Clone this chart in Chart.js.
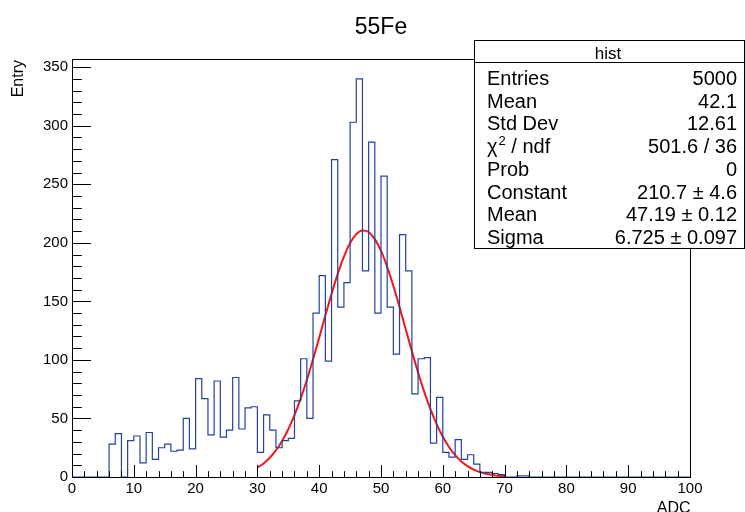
<!DOCTYPE html>
<html>
<head>
<meta charset="utf-8">
<script src="https://cdn.jsdelivr.net/npm/chart.js@4.4.1/dist/chart.umd.min.js"></script>
<style>
html,body{margin:0;padding:0;background:#ffffff;}
canvas{display:block;}
</style>
</head>
<body>
<canvas id="c" width="745" height="512"></canvas>
<script>
// ---------------- data ----------------
const chartTitle = '55Fe';
const xTitle = 'ADC';
const yTitle = 'Entry';
// histogram: 100 bins of width 1 from 0 to 100 (counts per bin)
const counts = [
  0, 0, 0, 0, 0, 0, 28, 37, 0, 31,
  35, 12, 38, 15, 25, 28, 22, 23, 50, 24,
  84, 67, 36, 82, 34, 40, 85, 41, 59, 60,
  21, 53, 40, 25, 31, 33, 65, 101, 50, 140,
  172, 99, 271, 145, 166, 303, 340, 176, 286, 140,
  257, 145, 105, 207, 176, 71, 101, 102, 29, 68,
  21, 17, 32, 15, 19, 11, 4, 4, 3, 2,
  0, 0, 1, 1, 0, 0, 0, 0, 0, 0,
  0, 0, 0, 0, 0, 0, 0, 0, 0, 0,
  0, 0, 0, 0, 0, 0, 0, 0, 0, 0
];
// red fit curve (gaus), values read at x = 30 ... 70
const fitX = [30,31,32,33,34,35,36,37,38,39,40,41,42,43,44,45,46,47,48,49,50,
              51,52,53,54,55,56,57,58,59,60,61,62,63,64,65,66,67,68,69,70];
const fitY = [8.0,11.6,16.4,22.7,30.8,40.8,52.8,66.9,82.8,100.4,119.0,137.9,156.4,173.5,188.3,199.8,207.4,210.6,209.2,203.2,193.1,
              179.5,163.2,145.1,126.2,107.4,89.3,72.7,57.9,45.1,34.3,25.6,18.6,13.3,9.3,6.3,4.2,2.8,1.8,1.1,0.7];
// axis tick labels
const xTickValues = [0, 10, 20, 30, 40, 50, 60, 70, 80, 90, 100];
const yTickValues = [0, 50, 100, 150, 200, 250, 300, 350];
// statistics box
const statsTitle = 'hist';
const statLabels = ['Entries', 'Mean', 'Std Dev', 'CHI2', 'Prob', 'Constant', 'Mean', 'Sigma'];
const statValues = ['5000', '42.1', '12.61', '501.6 / 36', '0', '210.7 \u00b1 4.6', '47.19 \u00b1 0.12', '6.725 \u00b1 0.097'];
const xMin = 0, xMax = 100, yMin = 0, yMax = 357;

// ---------------- build ----------------
const histPoints = counts.map((v, i) => ({x: xMin + i, y: v}));
histPoints.push({x: xMin + counts.length, y: counts[counts.length - 1]});
const fitPoints = fitX.map((x, i) => ({x: x, y: fitY[i]}));

const FONT = '"Liberation Sans", Arial, Helvetica, sans-serif';

const decor = {
  id: 'decor',
  afterDraw(chart) {
    const ctx = chart.ctx;
    const a = chart.chartArea;
    const xs = chart.scales.x, ys = chart.scales.y;
    ctx.save();
    ctx.strokeStyle = '#000';
    ctx.lineWidth = 1;
    const L = Math.round(a.left) + 0.5, R = Math.round(a.right) + 0.5;
    const T = Math.round(a.top) + 0.5, B = Math.round(a.bottom) + 0.5;
    ctx.strokeRect(L, T, R - L, B - T);
    // x ticks (inward)
    for (let v = xMin; v <= xMax; v += 2) {
      const px = Math.round(xs.getPixelForValue(v)) + 0.5;
      const len = (v % 10 === 0) ? 12.5 : 6.3;
      ctx.beginPath(); ctx.moveTo(px, B); ctx.lineTo(px, B - len); ctx.stroke();
    }
    // y ticks (inward)
    for (let v = 0; v <= 350; v += 10) {
      const py = Math.round(ys.getPixelForValue(v)) + 0.5;
      const len = (v % 50 === 0) ? 18.5 : 9.3;
      ctx.beginPath(); ctx.moveTo(L, py); ctx.lineTo(L + len, py); ctx.stroke();
    }
    // tick labels
    ctx.fillStyle = '#000';
    ctx.font = '15px ' + FONT;
    ctx.textAlign = 'center';
    ctx.textBaseline = 'middle';
    xTickValues.forEach(v => ctx.fillText(String(v), xs.getPixelForValue(v), 489));
    ctx.textAlign = 'right';
    yTickValues.forEach(v => ctx.fillText(String(v), 68, ys.getPixelForValue(v)));
    // title
    ctx.textBaseline = 'alphabetic';
    ctx.font = '23px ' + FONT;
    ctx.textAlign = 'center';
    ctx.fillText(chartTitle, 381, 33.5);
    // x title
    ctx.font = '16px ' + FONT;
    ctx.textAlign = 'right';
    ctx.fillText(xTitle, R, 513);
    // y title
    ctx.save();
    ctx.translate(22.5, 60);
    ctx.rotate(-Math.PI / 2);
    ctx.textAlign = 'right';
    ctx.fillText(yTitle, 0, 0);
    ctx.restore();
    // stats box
    const bx0 = 474.5, by0 = 40.5, bx1 = 744.5, by1 = 248.5;
    ctx.fillStyle = '#fff';
    ctx.fillRect(bx0, by0, bx1 - bx0, by1 - by0);
    ctx.strokeStyle = '#000';
    ctx.strokeRect(bx0, by0, bx1 - bx0, by1 - by0);
    ctx.beginPath(); ctx.moveTo(bx0, 62.5); ctx.lineTo(bx1, 62.5); ctx.stroke();
    ctx.fillStyle = '#000';
    ctx.font = '17px ' + FONT;
    ctx.textAlign = 'center';
    ctx.fillText(statsTitle, 608, 59);
    ctx.font = '20px ' + FONT;
    for (let i = 0; i < statLabels.length; i++) {
      const base = 85 + i * 22.7;
      ctx.textAlign = 'left';
      if (statLabels[i] === 'CHI2') {
        ctx.font = '20px ' + FONT;
        ctx.fillText('\u03c7', 487, base);
        const w = ctx.measureText('\u03c7').width;
        ctx.font = '13px ' + FONT;
        ctx.fillText('2', 487 + w + 1, base - 8);
        const w2 = ctx.measureText('2').width;
        ctx.font = '20px ' + FONT;
        ctx.fillText(' / ndf', 487 + w + w2 + 1, base);
      } else {
        ctx.fillText(statLabels[i], 487, base);
      }
      ctx.textAlign = 'right';
      ctx.fillText(statValues[i], 737, base);
    }
    ctx.restore();
  }
};

new Chart(document.getElementById('c'), {
  type: 'line',
  data: {
    datasets: [
      {
        label: 'hist',
        data: histPoints,
        stepped: 'before',
        borderColor: '#23429e',
        borderWidth: 1.2,
        pointRadius: 0,
        fill: false
      },
      {
        label: 'fit',
        data: fitPoints,
        borderColor: '#f01818',
        borderWidth: 2,
        pointRadius: 0,
        cubicInterpolationMode: 'monotone',
        fill: false
      }
    ]
  },
  options: {
    responsive: false,
    animation: false,
    devicePixelRatio: 1,
    layout: {padding: {left: 72, right: 55, top: 59, bottom: 35}},
    plugins: {legend: {display: false}, title: {display: false}, tooltip: {enabled: false}},
    scales: {
      x: {
        type: 'linear', min: xMin, max: xMax,
        grid: {display: false, drawTicks: false},
        border: {display: false},
        ticks: {display: false, stepSize: 10},
        afterFit: s => { s.height = 0; }
      },
      y: {
        type: 'linear', min: yMin, max: yMax,
        grid: {display: false, drawTicks: false},
        border: {display: false},
        ticks: {display: false, stepSize: 50},
        afterFit: s => { s.width = 0; }
      }
    }
  },
  plugins: [decor]
});
</script>
</body>
</html>
